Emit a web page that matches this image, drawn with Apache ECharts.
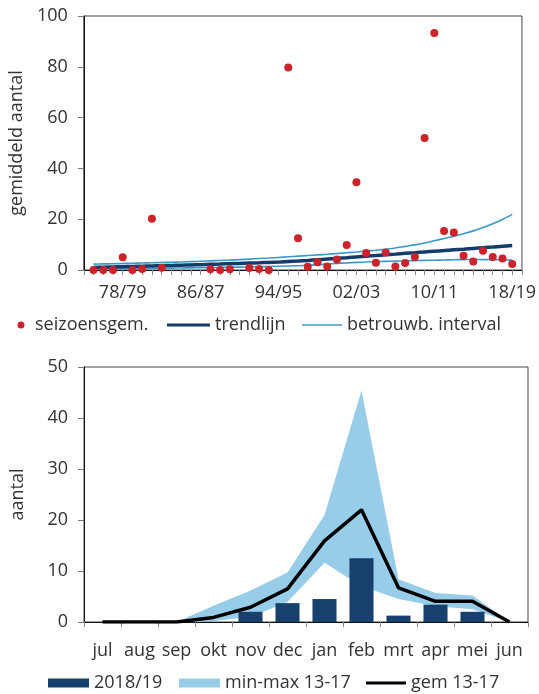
<!DOCTYPE html>
<html>
<head>
<meta charset="utf-8">
<script src="https://cdn.jsdelivr.net/npm/echarts@6/dist/echarts.min.js"></script>
<style>
html,body{margin:0;padding:0;background:#fff;}
#chart{width:539px;height:694px;}
</style>
</head>
<body>
<div id="chart"></div>
<script>
// ---- top chart data ----
const seasons = ['75/76','76/77','77/78','78/79','79/80','80/81','81/82','82/83','83/84','84/85','85/86','86/87','87/88','88/89','89/90','90/91','91/92','92/93','93/94','94/95','95/96','96/97','97/98','98/99','99/00','00/01','01/02','02/03','03/04','04/05','05/06','06/07','07/08','08/09','09/10','10/11','11/12','12/13','13/14','14/15','15/16','16/17','17/18','18/19'];
const seasonMeans = [0,0,0,5.0,0,0.4,20.2,0.9,null,null,null,null,0.3,0,0.3,null,0.8,0.4,0,null,79.7,12.5,1.3,3.1,1.4,4.1,9.8,34.5,6.7,2.9,6.9,1.4,2.8,5.1,52.0,93.3,15.4,14.8,5.6,3.3,7.6,5.1,4.5,2.4];
const trendLine = [1.0,1.1,1.2,1.3,1.4,1.5,1.6,1.7,1.8,1.9,2.0,2.1,2.25,2.35,2.5,2.6,2.75,2.85,3.0,3.1,3.3,3.5,3.75,4.05,4.3,4.6,4.85,5.15,5.45,5.7,6.0,6.25,6.55,6.8,7.1,7.4,7.65,7.95,8.2,8.5,8.8,9.05,9.35,9.6];
const ciUpper = [2.3,2.4,2.45,2.55,2.65,2.75,2.85,2.95,3.05,3.15,3.3,3.45,3.6,3.75,3.9,4.1,4.3,4.5,4.7,4.95,5.2,5.45,5.7,5.95,6.2,6.5,6.8,7.1,7.45,7.8,8.2,8.65,9.3,9.9,10.6,11.5,12.4,13.3,14.3,15.4,16.7,18.2,19.9,21.9];
const ciLower = [0.4,0.45,0.5,0.5,0.55,0.6,0.65,0.7,0.75,0.8,0.85,0.9,0.95,1.0,1.1,1.15,1.25,1.3,1.4,1.5,1.6,1.7,1.85,2.1,2.35,2.6,2.8,3.0,3.15,3.3,3.4,3.5,3.6,3.7,3.8,3.85,3.95,4.05,4.1,4.15,4.1,4.05,4.0,3.9];
const topYTicks = [0,20,40,60,80,100];

// ---- bottom chart data ----
const months = ['jul','aug','sep','okt','nov','dec','jan','feb','mrt','apr','mei','jun'];
const season1819 = [null,null,null,null,2.0,3.7,4.5,12.5,1.25,3.4,2.0,null];
const min1317 = [0,0,0,0.2,1.0,3.9,11.6,7.0,4.5,3.1,2.5,0];
const max1317 = [0,0,0,3.2,6.2,9.7,21.0,45.4,8.4,5.7,5.2,0];
const gem1317 = [0,0,0,0.9,2.9,6.5,15.9,22.0,6.7,4.05,4.05,0];
const bottomYTicks = [0,10,20,30,40,50];

// ---- build ----
const FONT = 'Open Sans';
const TXT = '#333333';
const pad = arr => [null].concat(arr, [null]);
const topCats = [''].concat(seasons, ['']);
const rangeVals = max1317.map((v, i) => +(v - min1317[i]).toFixed(2));

const C_RED = '#cc2229', C_TREND = '#143c6b', C_CI = '#3a98c8';
const C_BAR = '#17406c', C_BAND = '#97cde8', C_GEM = '#000000';

const chart = echarts.init(document.getElementById('chart'), null, {renderer: 'canvas'});
const axisText = {fontFamily: FONT, fontSize: 18, color: TXT};

const legendBase = (name, left, top, icon, w, h) => ({
  data: [name], left: left, top: top, icon: icon, itemWidth: w, itemHeight: h,
  padding: 0, itemGap: 0, selectedMode: false,
  textStyle: {fontFamily: FONT, fontSize: 18, color: TXT}
});

chart.setOption({
  animation: false,
  backgroundColor: '#fff',
  textStyle: {fontFamily: FONT},
  grid: [
    {left: 79, top: 16, width: 444, height: 254, show: true, borderColor: '#444', borderWidth: 1},
    {left: 84, top: 367, width: 444, height: 255, show: true, borderColor: '#444', borderWidth: 1}
  ],
  legend: [
    legendBase('seizoensgem.', 17.5, 316, 'circle', 18, 7),
    legendBase('trendlijn', 167, 316, 'rect', 43, 3),
    legendBase('betrouwb. interval', 302, 316, 'rect', 40, 1.5),
    legendBase('2018/19', 48, 674, 'rect', 41, 9),
    legendBase('min-max 13-17', 179, 674, 'rect', 41, 9),
    legendBase('gem 13-17', 366, 674, 'rect', 40, 3)
  ],
  xAxis: [
    {
      gridIndex: 0, type: 'category', data: topCats, boundaryGap: false,
      axisLine: {lineStyle: {color: '#111', width: 1}},
      axisTick: {show: true, interval: 0, length: 5, lineStyle: {color: '#888'}},
      axisLabel: Object.assign({interval: (i) => i % 8 === 4, margin: 14, showMaxLabel: true}, axisText),
      splitLine: {show: false}
    },
    {
      gridIndex: 1, type: 'category', data: months, boundaryGap: true,
      axisLine: {lineStyle: {color: '#111', width: 1}},
      axisTick: {show: true, interval: 0, length: 5, lineStyle: {color: '#888'}},
      axisLabel: Object.assign({interval: 0, margin: 20}, axisText),
      splitLine: {show: false}
    }
  ],
  yAxis: [
    {
      gridIndex: 0, type: 'value', min: topYTicks[0], max: topYTicks[topYTicks.length - 1], interval: 20,
      name: 'gemiddeld aantal', nameLocation: 'middle', nameGap: 52,
      nameTextStyle: {fontFamily: FONT, fontSize: 18, color: TXT},
      axisLine: {show: true, lineStyle: {color: '#111', width: 1}},
      axisTick: {show: true, length: 6, lineStyle: {color: '#777'}},
      axisLabel: Object.assign({margin: 16}, axisText),
      splitLine: {show: false}
    },
    {
      gridIndex: 1, type: 'value', min: bottomYTicks[0], max: bottomYTicks[bottomYTicks.length - 1], interval: 10,
      name: 'aantal', nameLocation: 'middle', nameGap: 57,
      nameTextStyle: {fontFamily: FONT, fontSize: 18, color: TXT},
      axisLine: {show: true, lineStyle: {color: '#111', width: 1}},
      axisTick: {show: true, length: 6, lineStyle: {color: '#777'}},
      axisLabel: Object.assign({margin: 16}, axisText),
      splitLine: {show: false}
    }
  ],
  series: [
    {
      name: 'betrouwb. interval', type: 'line', xAxisIndex: 0, yAxisIndex: 0,
      data: pad(ciUpper), showSymbol: false, symbol: 'none', smooth: 0.3, z: 2,
      lineStyle: {color: C_CI, width: 1.6}, itemStyle: {color: C_CI}
    },
    {
      name: 'betrouwb. interval', type: 'line', xAxisIndex: 0, yAxisIndex: 0,
      data: pad(ciLower), showSymbol: false, symbol: 'none', smooth: 0.3, z: 2,
      lineStyle: {color: C_CI, width: 1.6}, itemStyle: {color: C_CI}
    },
    {
      name: 'trendlijn', type: 'line', xAxisIndex: 0, yAxisIndex: 0,
      data: pad(trendLine), showSymbol: false, symbol: 'none', smooth: 0.3, z: 3,
      lineStyle: {color: C_TREND, width: 3.5}, itemStyle: {color: C_TREND}
    },
    {
      name: 'seizoensgem.', type: 'scatter', xAxisIndex: 0, yAxisIndex: 0,
      data: pad(seasonMeans), symbol: 'circle', symbolSize: 8, z: 5,
      itemStyle: {color: C_RED, opacity: 1}
    },
    {
      name: 'minbase', type: 'line', xAxisIndex: 1, yAxisIndex: 1, stack: 'band',
      data: min1317, symbol: 'none', showSymbol: false, z: 1,
      lineStyle: {opacity: 0, width: 0}, itemStyle: {color: 'transparent'}
    },
    {
      name: 'min-max 13-17', type: 'line', xAxisIndex: 1, yAxisIndex: 1, stack: 'band',
      data: rangeVals, symbol: 'none', showSymbol: false, z: 1,
      lineStyle: {opacity: 0, width: 0}, itemStyle: {color: C_BAND},
      areaStyle: {color: C_BAND, opacity: 1}
    },
    {
      name: '2018/19', type: 'bar', xAxisIndex: 1, yAxisIndex: 1,
      data: season1819, barWidth: '65%', z: 3,
      itemStyle: {color: C_BAR}
    },
    {
      name: 'gem 13-17', type: 'line', xAxisIndex: 1, yAxisIndex: 1,
      data: gem1317, symbol: 'none', showSymbol: false, z: 4,
      lineStyle: {color: C_GEM, width: 3.5}, itemStyle: {color: C_GEM}
    }
  ]
});
</script>
</body>
</html>
